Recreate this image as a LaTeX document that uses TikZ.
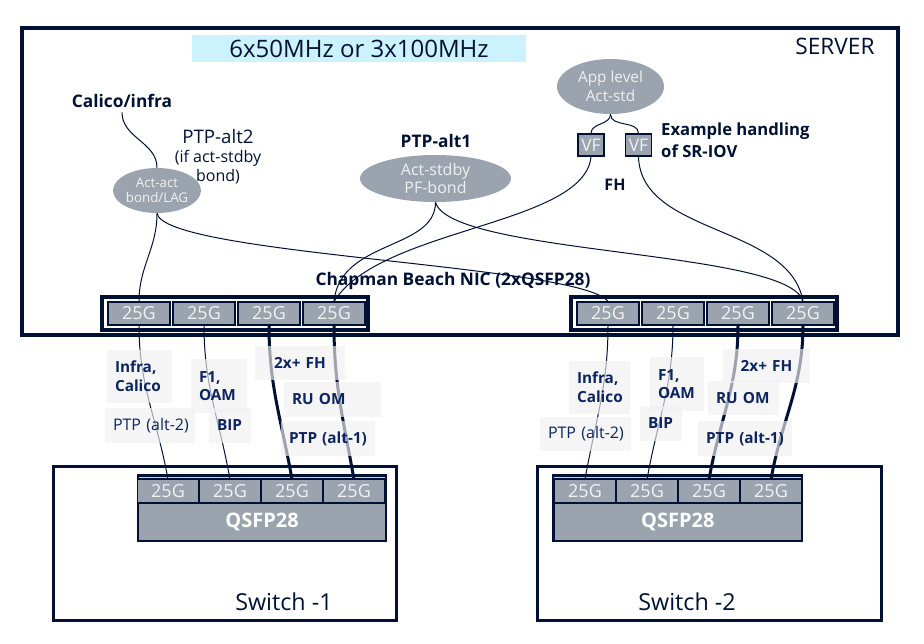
\documentclass[tikz,border=0pt]{standalone}
\usepackage{fontspec}
\setmainfont{Open Sans}
\usetikzlibrary{positioning,shapes.geometric}
\definecolor{Navy}{HTML}{001135}
\definecolor{PortGray}{HTML}{9AA3AE}
\definecolor{TagBlue}{HTML}{0D2463}
\definecolor{Sky}{HTML}{CCF3FD}
\tikzset{
  port/.style={draw=Navy, line width=0.8pt, fill=PortGray, text=white!95!black, minimum width=46.5pt, minimum height=17.25pt, inner sep=0pt, font=\fontsize{13.5}{13.5}\selectfont},
  swport/.style={port, draw=none, minimum width=45pt, minimum height=16.5pt},
  vf/.style={port, minimum width=19.5pt, minimum height=16.5pt, font=\fontsize{13}{13}\selectfont},
  bubble/.style={ellipse, fill=PortGray, text=white!94!black, inner sep=0pt, align=center},
  tag/.style={fill=black!6, fill opacity=0.65, text opacity=1, text=TagBlue, inner xsep=6pt, inner ysep=0pt, align=left, font=\bfseries\fontsize{11.5}{14}\selectfont},
  wire/.style={draw=Navy, line width=0.75pt},
  fatwire/.style={draw=Navy, line width=2.25pt},
  boxframe/.style={draw=Navy, line width=3pt},
}
\begin{document}
\begin{tikzpicture}[x=0.75pt,y=-0.75pt, text=Navy]
\useasboundingbox (0,0) rectangle (924,643);
% server
\draw[boxframe] (22,28) rectangle (898,335);
\node[fill=Sky, minimum width=250.5pt, minimum height=20.25pt, inner sep=0pt, font=\fontsize{18}{18}\selectfont] (band) at (359,48.5) {6x50MHz or 3x100MHz};
\node[font=\fontsize{17}{17}\selectfont] (server) at (835,46) {SERVER};
%
\node[font=\bfseries\fontsize{13}{13}\selectfont] (calico) at (122,101) {Calico/infra};
\node[bubble, minimum width=66pt, minimum height=33.75pt, font=\fontsize{10}{11.25}\selectfont] (actact) at (157,190.5) {Act-act\\bond/LAG};
\node[align=center, font=\fontsize{12}{14.25}\selectfont] (ptpalt2) at (218,157) {{\fontsize{14}{14.25}\selectfont PTP-alt2}\\(if act-stdby\\bond)};
\node[font=\bfseries\fontsize{13}{13}\selectfont] (ptpalt1) at (436,141) {PTP-alt1};
\node[bubble, minimum width=113.25pt, minimum height=35.25pt, font=\fontsize{12}{13.5}\selectfont] (pfbond) at (435.5,178.5) {Act-stdby\\PF-bond};
\node[bubble, minimum width=80.25pt, minimum height=41.25pt, font=\fontsize{11.5}{14.25}\selectfont] (applevel) at (610.5,86.5) {App level\\Act-std};
\node[vf] (vfA) at (591,145) {VF};
\node[vf] (vfB) at (638.5,145) {VF};
\node[anchor=west, align=left, font=\bfseries\fontsize{12.5}{16.5}\selectfont] (sriov) at (656.5,140) {Example handling\\of SR-IOV};
\node[font=\bfseries\fontsize{12}{12}\selectfont] (fh) at (615,185) {FH};
\node[font=\bfseries\fontsize{13}{13}\selectfont] (nicname) at (453,281) {Chapman Beach NIC (2xQSFP28)};
%
% NIC ports
\draw[boxframe] (102,297) rectangle (368,330);
\draw[boxframe] (571,297) rectangle (837,330);
\node[port] (nicA1) at (139,313.5) {25G};
\node[port] (nicA2) at (204,313.5) {25G};
\node[port] (nicA3) at (269,313.5) {25G};
\node[port] (nicA4) at (334,313.5) {25G};
\node[port] (nicB1) at (608,313.5) {25G};
\node[port] (nicB2) at (673,313.5) {25G};
\node[port] (nicB3) at (738,313.5) {25G};
\node[port] (nicB4) at (803,313.5) {25G};
%
% switches
\draw[boxframe, line width=2.5pt] (53.5,466.5) rectangle (396.5,620.5);
\draw[boxframe, line width=2.5pt] (537.5,466.5) rectangle (881.5,620.5);
\fill[Navy] (137,474) rectangle (387,542);
\fill[Navy] (552,474) rectangle (803,542);
\draw[PortGray!50, line width=0.6pt] (139,477.5) -- (385,477.5);
\draw[PortGray!50, line width=0.6pt] (554,477.5) -- (801,477.5);
\node[swport] (swA1) at (168,491) {25G};
\node[swport] (swA2) at (230,491) {25G};
\node[swport] (swA3) at (292,491) {25G};
\node[swport] (swA4) at (354,491) {25G};
\node[swport] (swB1) at (585,491) {25G};
\node[swport] (swB2) at (647,491) {25G};
\node[swport] (swB3) at (709,491) {25G};
\node[swport] (swB4) at (771,491) {25G};
\node[fill=PortGray, minimum width=184.5pt, minimum height=27pt, inner sep=0pt, text=white, font=\bfseries\fontsize{15}{15}\selectfont] (qsfpA) at (262,522) {QSFP28};
\node[fill=PortGray, minimum width=184.5pt, minimum height=27pt, inner sep=0pt, text=white, font=\bfseries\fontsize{15}{15}\selectfont] (qsfpB) at (677.75,522) {QSFP28};
\node[font=\fontsize{17.5}{17.5}\selectfont] (switchA) at (284,602) {Switch -1};
\node[font=\fontsize{17.5}{17.5}\selectfont] (switchB) at (687,602) {Switch -2};
%
% links inside the server
\draw[wire] (calico.south) to[out=-90,in=90] (actact.north);
\draw[wire] (actact.south) to[out=-90,in=90] (nicA1.north);
\draw[wire] (actact.south) .. controls +(7,42) and +(-28,-37) .. (nicB1.north);
\draw[wire] (pfbond.south) .. controls +(0,48) and +(6,-62) .. (nicA4.north);
\draw[wire] (pfbond.south) .. controls +(15,53) and +(-13,-52) .. (nicB4.north);
\draw[wire] (applevel.south) to[out=-90,in=90] (vfA.north);
\draw[wire] (applevel.south) to[out=-90,in=90] (vfB.north);
\draw[wire] (vfA.south) .. controls +(-6,69) and +(46,-74) .. (nicA4.north);
\draw[wire] (vfB.south) .. controls +(2,79) and +(-13,-77) .. (nicB4.north);
%
% cables to the switches
\draw[wire] (nicA1.south) to[out=-90,in=100] (swA1.north);
\draw[wire] (nicA2.south) to[out=-90,in=100] (swA2.north);
\draw[fatwire] (nicA3.south) to[out=-90,in=100] (swA3.north);
\draw[fatwire] (nicA4.south) to[out=-90,in=100] (swA4.north);
\draw[wire] (nicB1.south) to[out=-90,in=80] (swB1.north);
\draw[wire] (nicB2.south) to[out=-90,in=80] (swB2.north);
\draw[fatwire] (nicB3.south) to[out=-90,in=80] (swB3.north);
\draw[fatwire] (nicB4.south) to[out=-90,in=80] (swB4.north);
%
% traffic tags
\node[tag, text width=36.75pt, minimum height=39.75pt] (infraA) at (139.5,376.5) {Infra,\\Calico};
\node[tag, text width=55.5pt, minimum height=26.25pt, font=\fontsize{12}{14}\selectfont] (ptpA2) at (150,425.5) {\mbox{PTP (alt-2)}};
\node[tag, text width=30pt, minimum height=40.5pt] (f1A) at (219,386) {F1,\\OAM};
\node[tag, text width=19.5pt, minimum height=26.25pt] (bipA) at (230,425.5) {BIP};
\node[tag, text width=55.5pt, minimum height=25.5pt, align=center] (fhA) at (300,363) {\mbox{2x+ FH}};
\node[tag, text width=60.75pt, minimum height=26.25pt] (ruA) at (332.5,399.5) {\mbox{RU OM}};
\node[tag, text width=58.5pt, minimum height=26.25pt] (ptpA1) at (328,438.5) {\mbox{PTP (alt-1)}};
%
\node[tag, text width=33.75pt, minimum height=39.75pt] (infraB) at (599.5,387.5) {Infra,\\Calico};
\node[tag, text width=56.25pt, minimum height=25.5pt, font=\fontsize{12}{14}\selectfont] (ptpB2) at (585.5,434) {\mbox{PTP (alt-2)}};
\node[tag, text width=28.5pt, minimum height=40.5pt] (f1B) at (677,384) {F1,\\OAM};
\node[tag, text width=19.5pt, minimum height=26.25pt] (bipB) at (661,423.5) {BIP};
\node[tag, text width=53.25pt, minimum height=25.5pt, align=center] (fhB) at (766.5,366) {\mbox{2x+ FH}};
\node[tag, text width=41.25pt, minimum height=25.5pt] (ruB) at (743.5,398) {\mbox{RU OM}};
\node[tag, text width=58.5pt, minimum height=26.25pt] (ptpB1) at (745,438.5) {\mbox{PTP (alt-1)}};
\end{tikzpicture}
\end{document}
